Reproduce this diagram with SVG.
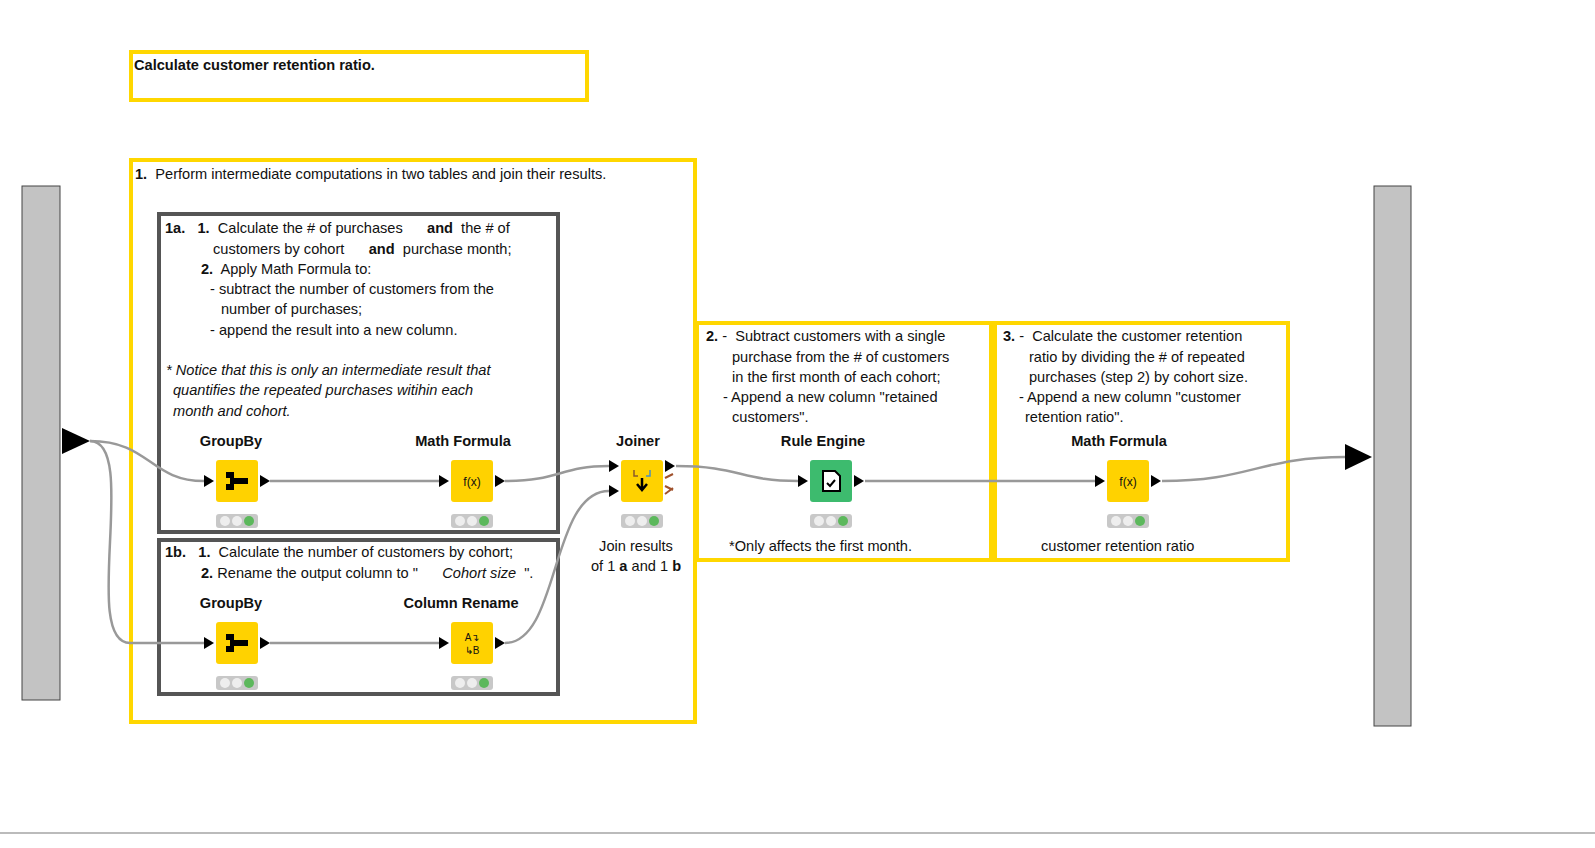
<svg xmlns="http://www.w3.org/2000/svg" width="1595" height="848" viewBox="0 0 1595 848">
<style>
text{font-family:"Liberation Sans",Arial,sans-serif;font-size:14.6px;fill:#111;white-space:pre}
.b{font-weight:bold}
.i{font-style:italic}
.ann{fill:none;stroke:#ffd700;stroke-width:4}
.meta{fill:none;stroke:#555;stroke-width:4}
.bar{fill:#c3c3c3;stroke:#444;stroke-width:1}
.node{fill:#ffd200}
.port{fill:#000}
.tl{fill:#c8c8c8}
.off{fill:#eee}
.on{fill:#5cb85c}
.c{fill:none;stroke:#999;stroke-width:2.5}
.lbl{text-anchor:middle;font-weight:bold}
</style>
<defs>
<g id="lights"><rect class="tl" x="0" y="0" width="42" height="14" rx="3"/><circle class="off" cx="9" cy="7" r="5"/><circle class="off" cx="21" cy="7" r="5"/><circle class="on" cx="33" cy="7" r="5"/></g>
<g id="ports"><polygon class="port" points="-12,-6 -2,0 -12,6"/><polygon class="port" points="44,-6 54,0 44,6"/></g>
</defs>
<rect width="1595" height="848" fill="#fff"/>
<line x1="0" y1="833" x2="1595" y2="833" stroke="#bbb" stroke-width="2"/>

<g id="ann-title"><rect class="ann" x="131" y="52" width="456" height="48"/><text class="b" x="134" y="70">Calculate customer retention ratio.</text></g>
<g id="ann-1"><rect class="ann" x="131" y="160" width="564" height="562"/><text x="135" y="179"><tspan class="b">1.</tspan>  Perform intermediate computations in two tables and join their results.</text></g>
<g id="meta-1a"><rect class="meta" x="159" y="214" width="399" height="318"/>
<text x="165" y="233"><tspan class="b">1a.</tspan>   <tspan class="b">1.</tspan>  Calculate the # of purchases      <tspan class="b">and</tspan>  the # of</text>
<text x="213" y="254">customers by cohort      <tspan class="b">and</tspan>  purchase month;</text>
<text x="201" y="274"><tspan class="b">2.</tspan>  Apply Math Formula to:</text>
<text x="210" y="294">- subtract the number of customers from the</text>
<text x="221" y="314">number of purchases;</text>
<text x="210" y="335">- append the result into a new column.</text>
<text class="i" x="166" y="375">* Notice that this is only an intermediate result that</text>
<text class="i" x="173" y="395">quantifies the repeated purchases witihin each</text>
<text class="i" x="173" y="416">month and cohort.</text></g>
<g id="meta-1b"><rect class="meta" x="159" y="540" width="399" height="154"/>
<text x="165" y="557"><tspan class="b">1b.</tspan>   <tspan class="b">1.</tspan>  Calculate the number of customers by cohort;</text>
<text x="201" y="578"><tspan class="b">2.</tspan> Rename the output column to "      <tspan class="i">Cohort size</tspan>  ".</text></g>
<g id="ann-2"><rect class="ann" x="697" y="323" width="294" height="237"/>
<text x="706" y="341"><tspan class="b">2.</tspan> -  Subtract customers with a single</text>
<text x="732" y="362">purchase from the # of customers</text>
<text x="732" y="382">in the first month of each cohort;</text>
<text x="723" y="402">- Append a new column "retained</text>
<text x="732" y="422">customers".</text>
<text x="729" y="551">*Only affects the first month.</text></g>
<g id="ann-3"><rect class="ann" x="995" y="323" width="293" height="237"/>
<text x="1003" y="341"><tspan class="b">3.</tspan> -  Calculate the customer retention</text>
<text x="1029" y="362">ratio by dividing the # of repeated</text>
<text x="1029" y="382">purchases (step 2) by cohort size.</text>
<text x="1019" y="402">- Append a new column "customer</text>
<text x="1025" y="422">retention ratio".</text>
<text x="1041" y="551">customer retention ratio</text></g>

<g id="in-bar"><rect class="bar" x="22" y="186" width="38" height="514"/><polygon class="port" points="62,428 90,441 62,454"/></g>
<g id="out-bar"><rect class="bar" x="1374" y="186" width="37" height="540"/><polygon class="port" points="1345,444 1372,457 1345,470"/></g>

<g id="connectors">
<path class="c" d="M90,441 C150,441 150,481 204,481"/>
<path class="c" d="M90,441 C140,441 80,643 130,643 L204,643"/>
<path class="c" d="M270,481 L440,481"/>
<path class="c" d="M270,643 L440,643"/>
<path class="c" d="M505,481 C560,481 560,466 609,466"/>
<path class="c" d="M505,643 C560,643 550,491 609,491"/>
<path class="c" d="M676,466 C740,466 740,481 798,481"/>
<path class="c" d="M865,481 L1095,481"/>
<path class="c" d="M1162,481 C1250,481 1260,457 1345,457"/>
</g>

<g id="groupby-a" transform="translate(216,460)"><text class="lbl" x="15" y="-14">GroupBy</text><rect class="node" width="42" height="42" rx="3"/><use href="#ports" y="21"/>
<path d="M10,12 h8 v6 h14 v6 h-14 v6 h-8 v-6 h4 v-6 h-4z" fill="#000"/><use href="#lights" y="54"/></g>
<g id="math-a" transform="translate(451,460)"><text class="lbl" x="12" y="-14">Math Formula</text><rect class="node" width="42" height="42" rx="3"/><use href="#ports" y="21"/>
<text x="21" y="26" text-anchor="middle" style="font-size:12px">f(x)</text><use href="#lights" y="54"/></g>
<g id="groupby-b" transform="translate(216,622)"><text class="lbl" x="15" y="-14">GroupBy</text><rect class="node" width="42" height="42" rx="3"/><use href="#ports" y="21"/>
<path d="M10,12 h8 v6 h14 v6 h-14 v6 h-8 v-6 h4 v-6 h-4z" fill="#000"/><use href="#lights" y="54"/></g>
<g id="rename" transform="translate(451,622)"><text class="lbl" x="10" y="-14">Column Rename</text><rect class="node" width="42" height="42" rx="3"/><use href="#ports" y="21"/>
<text x="21" y="19" text-anchor="middle" style="font-size:10px">A↴</text><text x="21" y="32" text-anchor="middle" style="font-size:10px">↳B</text><use href="#lights" y="54"/></g>
<g id="joiner" transform="translate(621,460)"><text class="lbl" x="17" y="-14">Joiner</text><rect class="node" width="42" height="42" rx="3"/>
<polygon class="port" points="-12,0 -2,6 -12,12"/><polygon class="port" points="-12,25 -2,31 -12,37"/><polygon class="port" points="44,0 54,6 44,12"/>
<path d="M21,18 v10 M16,24 l5,6 l5,-6" stroke="#000" stroke-width="2.5" fill="none"/><path d="M13,10 v6 h4" stroke="#8b5a2b" stroke-width="1.5" fill="none"/><path d="M29,10 v6 h-4" stroke="#4a90c0" stroke-width="1.5" fill="none"/>
<path d="M44,18 l8,-4 M44,26 l8,4 M44,34 l8,-6" stroke="#a0522d" stroke-width="2" fill="none"/>
<use href="#lights" y="54"/><text x="15" y="91" text-anchor="middle">Join results</text><text x="15" y="111" text-anchor="middle">of 1 <tspan class="b">a</tspan> and 1 <tspan class="b">b</tspan></text></g>
<g id="rule-engine" transform="translate(810,460)"><text class="lbl" x="13" y="-14">Rule Engine</text><rect width="42" height="42" rx="3" fill="#3dbb6e"/><use href="#ports" y="21"/>
<path d="M13,11 h12 l5,5 v15 h-17z" fill="#fff" stroke="#000" stroke-width="2"/><path d="M17,23 l3,3 l5,-6" stroke="#000" stroke-width="2" fill="none"/><use href="#lights" y="54"/></g>
<g id="math-3" transform="translate(1107,460)"><text class="lbl" x="12" y="-14">Math Formula</text><rect class="node" width="42" height="42" rx="3"/><use href="#ports" y="21"/>
<text x="21" y="26" text-anchor="middle" style="font-size:12px">f(x)</text><use href="#lights" y="54"/></g>
</svg>
